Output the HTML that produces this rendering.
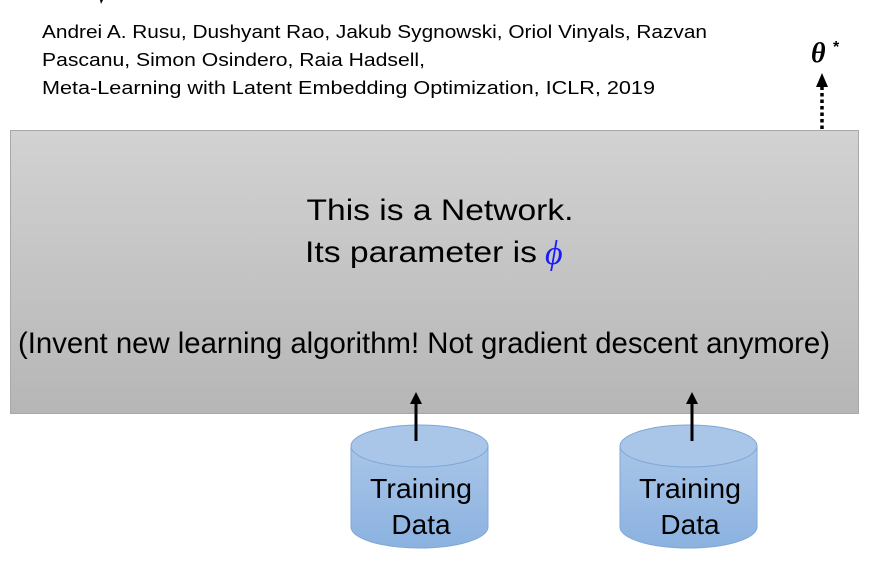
<!DOCTYPE html>
<html><head><meta charset="utf-8"><style>html,body{margin:0;padding:0;background:#fff;}svg{display:block}</style></head>
<body>
<svg width="882" height="567" viewBox="0 0 882 567" xmlns="http://www.w3.org/2000/svg" font-family="Liberation Sans, sans-serif">
<defs>
<linearGradient id="g" x1="0" y1="0" x2="0" y2="1"><stop offset="0" stop-color="#d2d2d2"/><stop offset="1" stop-color="#b6b6b6"/></linearGradient>
<linearGradient id="c" x1="0" y1="0" x2="0" y2="1"><stop offset="0" stop-color="#a9c5e8"/><stop offset="1" stop-color="#8bb2e0"/></linearGradient>
</defs>
<path d="M100 0 L103 0 L101 4 Z" fill="#000"/>
<text x="42" y="38" font-size="18" textLength="665" lengthAdjust="spacingAndGlyphs">Andrei A. Rusu, Dushyant Rao, Jakub Sygnowski, Oriol Vinyals, Razvan</text>
<text x="42" y="66" font-size="18" textLength="383" lengthAdjust="spacingAndGlyphs">Pascanu, Simon Osindero, Raia Hadsell,</text>
<text x="42" y="94" font-size="18" textLength="613" lengthAdjust="spacingAndGlyphs">Meta-Learning with Latent Embedding Optimization, ICLR, 2019</text>
<text x="811" y="62" font-size="28" font-weight="bold" font-style="italic" font-family="Liberation Serif, serif">θ</text>
<text x="833" y="52" font-size="16" font-weight="bold">*</text>
<line x1="822" y1="129" x2="822" y2="86" stroke="#000" stroke-width="3.5" stroke-dasharray="3.5,3"/>
<path d="M816 87 L822 73 L828 87 Z" fill="#000"/>
<rect x="10.5" y="130.5" width="848" height="283" fill="url(#g)" stroke="#a8a8a8"/>
<text x="440" y="220" font-size="30" text-anchor="middle" textLength="267" lengthAdjust="spacingAndGlyphs">This is a Network.</text>
<text x="305" y="262" font-size="30" textLength="232" lengthAdjust="spacingAndGlyphs">Its parameter is</text>
<text x="545" y="264" font-size="34" font-style="italic" fill="#1a1aff" font-family="Liberation Serif, serif">ϕ</text>
<text x="18" y="353" font-size="30" textLength="812" lengthAdjust="spacingAndGlyphs">(Invent new learning algorithm! Not gradient descent anymore)</text>
<g>
<path d="M351 446 L351 527 A68.5 21 0 0 0 488 527 L488 446 Z" fill="url(#c)" stroke="#7fa7d6"/>
<ellipse cx="419.5" cy="446" rx="68.5" ry="21" fill="#a9c6e9" stroke="#7fa7d6"/>
<path d="M620 446 L620 527 A68.5 21 0 0 0 757 527 L757 446 Z" fill="url(#c)" stroke="#7fa7d6"/>
<ellipse cx="688.5" cy="446" rx="68.5" ry="21" fill="#a9c6e9" stroke="#7fa7d6"/>
</g>
<text x="421" y="498" font-size="28" text-anchor="middle" textLength="102" lengthAdjust="spacingAndGlyphs">Training</text>
<text x="421" y="534" font-size="28" text-anchor="middle">Data</text>
<text x="690" y="498" font-size="28" text-anchor="middle" textLength="102" lengthAdjust="spacingAndGlyphs">Training</text>
<text x="690" y="534" font-size="28" text-anchor="middle">Data</text>
<line x1="416" y1="441" x2="416" y2="402" stroke="#000" stroke-width="3"/>
<path d="M410 404 L416 392 L422 404 Z" fill="#000"/>
<line x1="692" y1="441" x2="692" y2="402" stroke="#000" stroke-width="3"/>
<path d="M686 404 L692 392 L698 404 Z" fill="#000"/>
</svg>
</body></html>
